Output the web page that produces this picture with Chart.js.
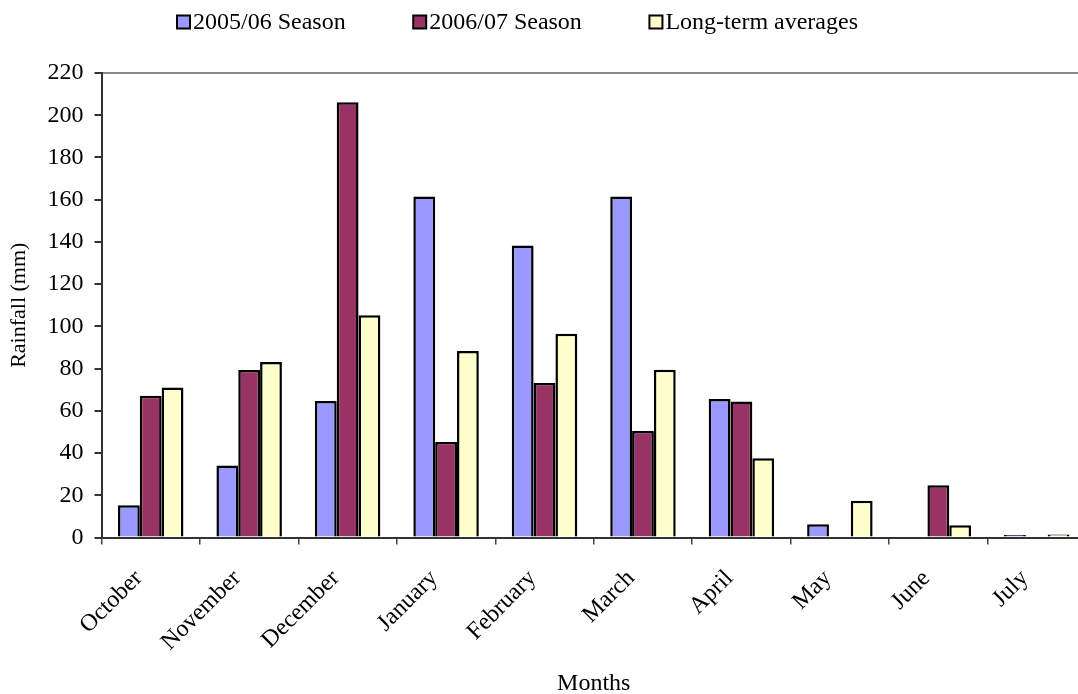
<!DOCTYPE html>
<html>
<head>
<meta charset="utf-8">
<title>Monthly rainfall</title>
<script src="https://cdn.jsdelivr.net/npm/chart.js@4.4.1/dist/chart.umd.min.js"></script>
<style>
  html, body { margin: 0; padding: 0; background: #fff; overflow: hidden; }
  #wrap { position: relative; width: 1078px; height: 694px; overflow: hidden; }
  canvas { display: block; }
</style>
</head>
<body>
<div id="wrap"><canvas id="rain" width="1090" height="694"></canvas></div>
<script>
// Monthly rainfall (mm), October to July
const months = ['October', 'November', 'December', 'January', 'February', 'March', 'April', 'May', 'June', 'July'];
const season0506 = [15.3, 34.1, 64.6, 161.5, 138.3, 161.5, 65.6, 6.3, 0, 1.2];
const season0607 = [67.1, 79.3, 206.1, 45.2, 73.2, 50.4, 64.4, 0, 24.8, 0];
const longTermAvg = [71.1, 83.1, 105.3, 88.3, 96.5, 79.5, 37.5, 17.4, 5.8, 1.4];
const seriesNames = ['2005/06 Season', '2006/07 Season', 'Long-term averages'];
const yMin = 0, yMax = 220, yStep = 20;

const FONT = '"Liberation Serif", "Times New Roman", serif';

// Legend row across the top: square swatch followed by its label
const legendRow = {
  id: 'legendRow',
  afterDraw(chart) {
    const ctx = chart.ctx;
    const box = 13, gap = 3, left = 177, right = 858, midY = 22;
    ctx.save();
    ctx.font = '24px ' + FONT;
    const items = chart.data.datasets.map(ds => ({
      label: ds.label, fill: ds.backgroundColor, w: ctx.measureText(ds.label).width
    }));
    const used = items.reduce((s, it) => s + box + gap + it.w, 0);
    const spacing = (right - left - used) / (items.length - 1);
    let x = left;
    ctx.textBaseline = 'middle';
    ctx.textAlign = 'left';
    items.forEach(it => {
      ctx.fillStyle = it.fill;
      ctx.fillRect(x, midY - box / 2, box, box);
      ctx.lineWidth = 2;
      ctx.strokeStyle = '#000';
      ctx.strokeRect(x, midY - box / 2, box, box);
      ctx.fillStyle = '#000';
      ctx.fillText(it.label, x + box + gap, midY + 1);
      x += box + gap + it.w + spacing;
    });
    ctx.restore();
  }
};

const barStyle = { borderColor: '#000', borderWidth: 2.5, categoryPercentage: 0.665, barPercentage: 1.0 };

new Chart(document.getElementById('rain'), {
  type: 'bar',
  data: {
    labels: months,
    datasets: [
      Object.assign({ label: seriesNames[0], data: season0506, backgroundColor: '#9999FF' }, barStyle),
      Object.assign({ label: seriesNames[1], data: season0607, backgroundColor: '#993366' }, barStyle),
      Object.assign({ label: seriesNames[2], data: longTermAvg, backgroundColor: '#FFFFCC' }, barStyle)
    ]
  },
  options: {
    responsive: false,
    animation: false,
    layout: { padding: { left: 0, right: 4, top: 73, bottom: 0 } },
    plugins: { legend: { display: false }, tooltip: { enabled: false } },
    scales: {
      x: {
        offset: true,
        grid: { offset: true, drawOnChartArea: false, drawTicks: true, tickLength: 7, tickColor: '#444', lineWidth: 1.5 },
        border: { display: true, color: '#333', width: 2 },
        ticks: { color: '#000', font: { family: FONT, size: 24 }, minRotation: 45, maxRotation: 45, padding: 20, labelOffset: -12, autoSkip: false },
        title: { display: true, text: 'Months', color: '#000', font: { family: FONT, size: 24 }, padding: { top: 0, bottom: -4 } },
        afterFit(scale) { scale.height = 694 - 537.5; }
      },
      y: {
        min: yMin, max: yMax,
        grid: {
          drawOnChartArea: true,
          color: c => (c.tick && c.tick.value === yMax) ? '#888' : 'rgba(0,0,0,0)',
          lineWidth: 2, tickLength: 7, tickColor: '#333'
        },
        border: { display: true, color: '#333', width: 2 },
        ticks: { stepSize: yStep, color: '#000', font: { family: FONT, size: 24 }, padding: 11 },
        title: { display: true, text: 'Rainfall (mm)', color: '#000', font: { family: FONT, size: 22 }, padding: { top: 6, bottom: 0 } },
        afterFit(scale) { scale.width = 101.5; }
      }
    }
  },
  plugins: [legendRow]
});
</script>
</body>
</html>
